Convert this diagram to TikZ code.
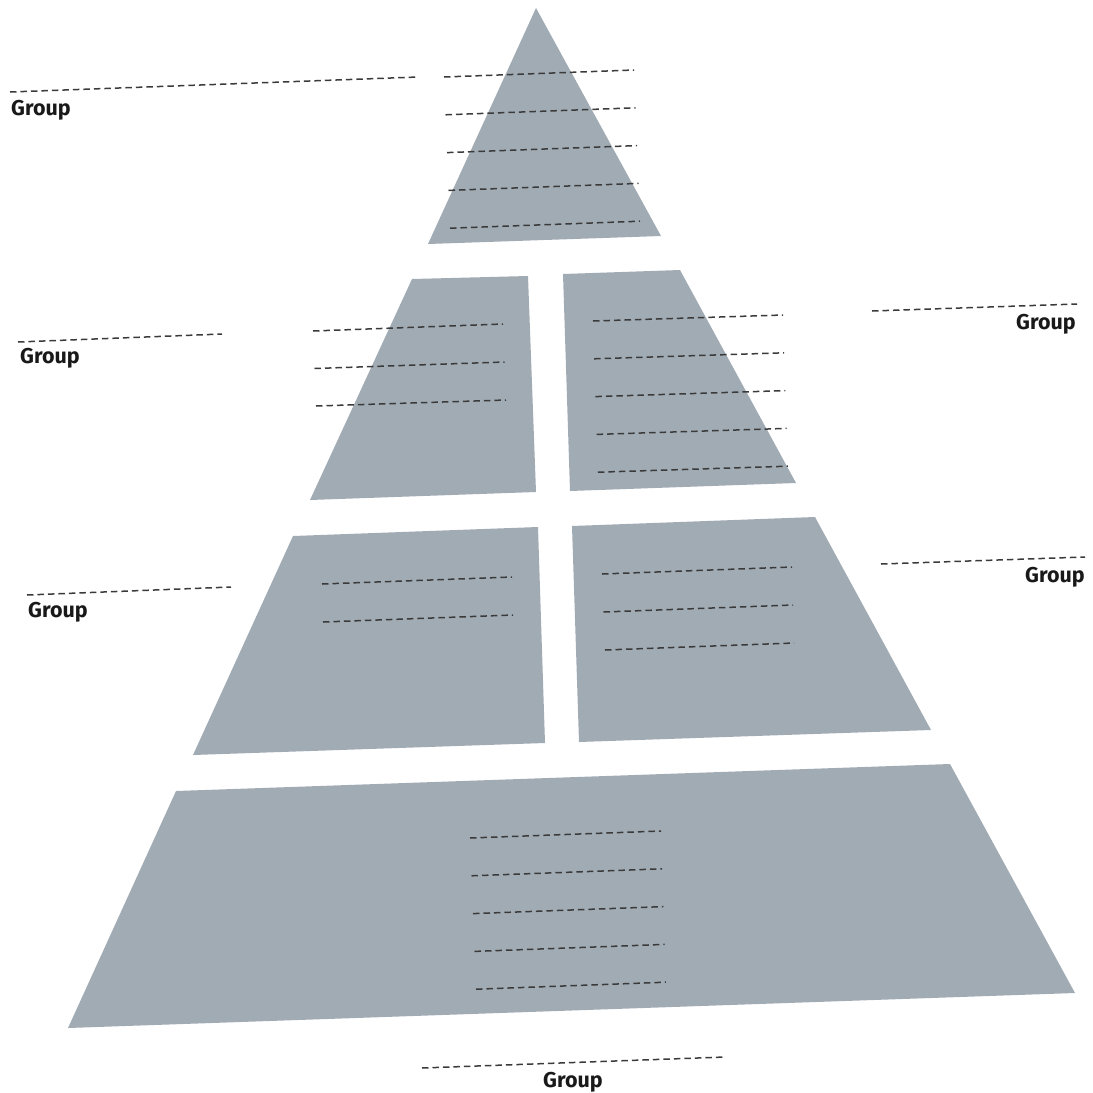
\documentclass[tikz,border=0pt]{standalone}
\usepackage{fontspec}
\setmainfont{Fira Sans}
\begin{document}
\begin{tikzpicture}[x=1pt,y=-1pt,
  block/.style={fill=pyr,draw=none},
  guide/.style={draw=lineclr,line width=1.5pt,dash pattern=on 6.5pt off 4pt},
  grp/.style={font=\bfseries\fontsize{21.5}{24}\selectfont,text=black!90,inner sep=0pt}]
\definecolor{pyr}{HTML}{A1ABB4}
\definecolor{lineclr}{HTML}{3A3A3A}
\useasboundingbox (0,0) rectangle (1093,1093);
% blocks
\path[block] (536,8) -- (661,236) -- (428,244) -- cycle;
\path[block] (412,279) -- (528,276) -- (536,492) -- (310,500) -- cycle;
\path[block] (563,274) -- (680,270) -- (796,483) -- (570,491) -- cycle;
\path[block] (293,536) -- (538,527) -- (545,743) -- (193,755) -- cycle;
\path[block] (572,526) -- (815,517) -- (931,730) -- (579,742) -- cycle;
\path[block] (176,791) -- (950,764) -- (1075,993) -- (68,1028) -- cycle;
% guide lines in blocks
\foreach \y in {0,1,2,3,4}{
  \draw[guide] (444+1.5*\y,77+37.8*\y) -- (634+1.5*\y,70+37.8*\y);
  \draw[guide] (593+1.2*\y,321+37.8*\y) -- (783+1.2*\y,315+37.8*\y);
  \draw[guide] (470+1.5*\y,838+37.8*\y) -- (661+1.2*\y,831+37.8*\y);
}
\foreach \y in {0,1,2}{
  \draw[guide] (313+1.5*\y,331+37.5*\y) -- (503+1.5*\y,324+38*\y);
  \draw[guide] (602+1.5*\y,574+38*\y) -- (792+1*\y,567+38*\y);
}
\foreach \y in {0,1}{
  \draw[guide] (322+\y,584+38*\y) -- (512+\y,577+38*\y);
}
% group labels
\node[grp] (g1) at (41,110) {Group};
\draw[guide] (10,92) -- (418,77);
\node[grp] (g2) at (50,358) {Group};
\draw[guide] (18,342) -- (222,334);
\node[grp] (g3) at (1046,324) {Group};
\draw[guide] (872,311) -- (1077,304);
\node[grp] (g4) at (58,612) {Group};
\draw[guide] (27,595) -- (231,587);
\node[grp] (g5) at (1055,577) {Group};
\draw[guide] (881,564) -- (1085,557);
\node[grp] (g6) at (573,1082) {Group};
\draw[guide] (422,1068) -- (725,1057);
\end{tikzpicture}
\end{document}
